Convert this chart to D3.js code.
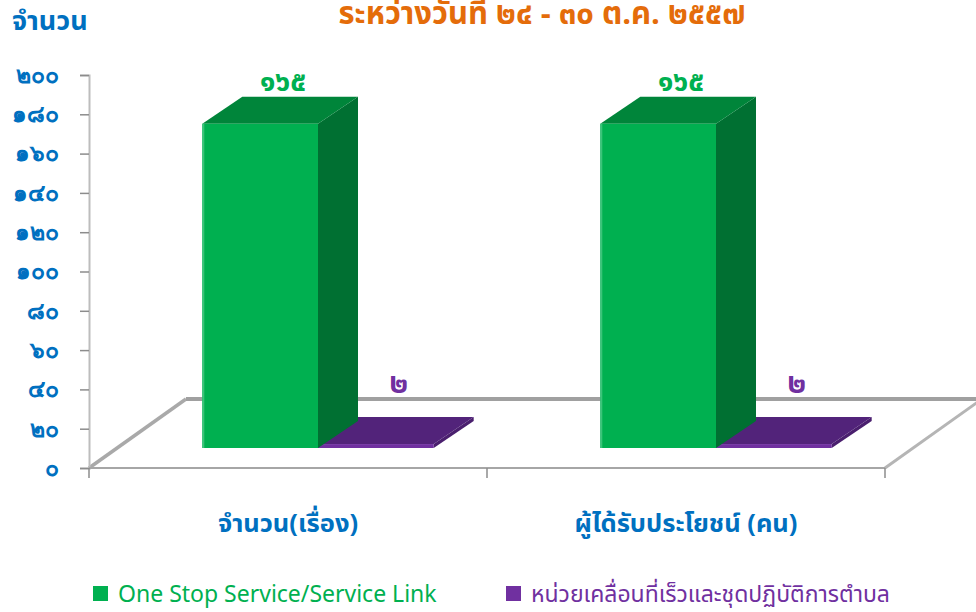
<!DOCTYPE html>
<html>
<head>
<meta charset="utf-8">
<script src="https://cdn.jsdelivr.net/npm/d3@7"></script>
<style>
  body { margin: 0; background: #fff; }
  svg { display: block; font-family: "Noto Sans Thai", "Loma", "Garuda", "Tahoma", "Noto Sans", sans-serif; }
</style>
</head>
<body>
<svg id="chart" width="976" height="612"></svg>
<script>
// data
var categories = [ "จำนวน(เรื่อง)", "ผู้ได้รับประโยชน์ (คน)" ];
var seriesNames = [ "One Stop Service/Service Link", "หน่วยเคลื่อนที่เร็วและชุดปฏิบัติการตำบล" ];
var oneStopValues = [ 165, 165 ];
var mobileUnitValues = [ 2, 2 ];
var yTicks = [ 0, 20, 40, 60, 80, 100, 120, 140, 160, 180, 200 ];
var titleText = "ระหว่างวันที่ ๒๔ - ๓๐ ต.ค. ๒๕๕๗";
var yTitle = "จำนวน";

var colors = {
  front: [ "#00b050", "#7030a0" ],
  top:   [ "#00853a", "#52237a" ],
  side:  [ "#007032", "#4a1f6e" ]
};

function thai( n ) {
  return String( n ).replace( /\d/g, d => "๐๑๒๓๔๕๖๗๘๙"[ d ] );
}

var svg = d3.select( "#chart" );

// 3d offsets
var floorD = { dx: 97, dy: -69 };
var frontD = { dx: 30, dy: -20 };
var barD = { dx: 40, dy: -27 };

var x0 = d3.scaleBand().domain( categories ).range( [ 89, 885 ] );
var x1 = d3.scaleBand().domain( seriesNames ).range( [ 0, x0.bandwidth() ] )
  .paddingInner( 0 ).paddingOuter( 0.72 );
var y = d3.scaleLinear().domain( [ 0, 200 ] ).range( [ 468, 75 ] );

var y0 = y( 0 ), backY = y0 + floorD.dy;

// floor
var floor = svg.append( "g" );
floor.append( "line" )
  .attr( "x1", 89 ).attr( "y1", y0 ).attr( "x2", 89 + floorD.dx ).attr( "y2", backY )
  .attr( "stroke", "#a9a9a9" ).attr( "stroke-width", 3.5 );
floor.append( "line" )
  .attr( "x1", 89 + floorD.dx ).attr( "y1", backY ).attr( "x2", 885 + floorD.dx ).attr( "y2", backY )
  .attr( "stroke", "#a0a0a0" ).attr( "stroke-width", 4 );
floor.append( "line" )
  .attr( "x1", 885 ).attr( "y1", y0 ).attr( "x2", 885 + floorD.dx ).attr( "y2", backY )
  .attr( "stroke", "#b5b5b5" ).attr( "stroke-width", 3 );

// y axis
var yAxis = svg.append( "g" )
  .attr( "transform", "translate(89,0)" )
  .call( d3.axisLeft( y ).tickValues( yTicks ).tickSize( 9 ).tickPadding( 21 ).tickFormat( thai ) );
yAxis.select( ".domain" ).attr( "stroke", "#bdbdbd" ).attr( "stroke-width", 2 );
yAxis.selectAll( ".tick line" ).attr( "stroke", "#8c8c8c" ).attr( "stroke-width", 1.5 );
yAxis.selectAll( ".tick text" )
  .attr( "fill", "#0070c0" ).attr( "font-size", 23 ).attr( "font-weight", "bold" )
  .attr( "font-family", null );

// x axis
svg.append( "line" )
  .attr( "x1", 89 ).attr( "x2", 885 ).attr( "y1", y0 ).attr( "y2", y0 )
  .attr( "stroke", "#a6a6a6" ).attr( "stroke-width", 2 );
var edges = categories.map( c => x0( c ) ).concat( [ x0.range()[ 1 ] ] );
svg.append( "g" ).selectAll( "line" ).data( edges ).enter().append( "line" )
  .attr( "x1", d => d ).attr( "x2", d => d )
  .attr( "y1", y0 ).attr( "y2", y0 + 10 )
  .attr( "stroke", "#8c8c8c" ).attr( "stroke-width", 1.5 );

svg.append( "g" ).selectAll( "text" ).data( categories ).enter().append( "text" )
  .attr( "x", d => x0( d ) + x0.bandwidth() / 2 )
  .attr( "y", 532 )
  .attr( "text-anchor", "middle" )
  .attr( "fill", "#0070c0" ).attr( "font-size", 25.5 ).attr( "font-weight", "bold" )
  .text( d => d );

// bars
var bars = [];
categories.forEach( function( c, ci ) {
  var vals = [ oneStopValues[ ci ], mobileUnitValues[ ci ] ];
  seriesNames.forEach( function( s, si ) {
    bars.push( { cat: c, s: s, si: si, value: vals[ si ] } );
  } );
} );
// draw right to left so side faces overlap correctly
bars.sort( ( a, b ) => ( x0( b.cat ) + x1( b.s ) ) - ( x0( a.cat ) + x1( a.s ) ) );

var barG = svg.append( "g" ).selectAll( "g" ).data( bars ).enter().append( "g" );

function geo( d ) {
  var xl = x0( d.cat ) + x1( d.s ) + frontD.dx;
  var xr = xl + x1.bandwidth();
  var yb = y( 0 ) + frontD.dy;
  var yt = y( d.value ) + frontD.dy;
  return { xl: xl, xr: xr, yb: yb, yt: yt };
}
function pts( arr ) { return arr.map( p => p.join( "," ) ).join( " " ); }

barG.append( "polygon" )
  .attr( "points", function( d ) {
    var g = geo( d );
    return pts( [ [ g.xr, g.yt ], [ g.xr + barD.dx, g.yt + barD.dy ], [ g.xr + barD.dx, g.yb + barD.dy ], [ g.xr, g.yb ] ] );
  } )
  .attr( "fill", d => colors.side[ d.si ] );
barG.append( "polygon" )
  .attr( "points", function( d ) {
    var g = geo( d );
    return pts( [ [ g.xl, g.yt ], [ g.xl + barD.dx, g.yt + barD.dy ], [ g.xr + barD.dx, g.yt + barD.dy ], [ g.xr, g.yt ] ] );
  } )
  .attr( "fill", d => colors.top[ d.si ] );
barG.append( "rect" )
  .attr( "x", d => geo( d ).xl )
  .attr( "y", d => geo( d ).yt )
  .attr( "width", x1.bandwidth() )
  .attr( "height", d => Math.max( 1, geo( d ).yb - geo( d ).yt ) )
  .attr( "fill", d => colors.front[ d.si ] );
barG.filter( d => d.si === 0 ).append( "line" )
  .attr( "x1", d => geo( d ).xl + 1 ).attr( "x2", d => geo( d ).xl + 1 )
  .attr( "y1", d => geo( d ).yt ).attr( "y2", d => geo( d ).yb )
  .attr( "stroke", "#3cc47a" ).attr( "stroke-width", 2 );

// value labels
barG.append( "text" )
  .attr( "x", d => ( geo( d ).xl + geo( d ).xr ) / 2 + barD.dx / 2 + 3 )
  .attr( "y", d => Math.min( geo( d ).yt + barD.dy - 6, backY - 6 ) )
  .attr( "text-anchor", "middle" )
  .attr( "fill", d => colors.front[ d.si ] )
  .attr( "font-size", 29 ).attr( "font-weight", "bold" )
  .text( d => thai( d.value ) );

// titles
svg.append( "text" )
  .attr( "x", 542 ).attr( "y", 24 )
  .attr( "text-anchor", "middle" )
  .attr( "fill", "#e46c0a" ).attr( "font-size", 31 ).attr( "font-weight", "bold" )
  .text( titleText );
svg.append( "text" )
  .attr( "x", 12 ).attr( "y", 30 )
  .attr( "fill", "#0070c0" ).attr( "font-size", 27 ).attr( "font-weight", "bold" )
  .text( yTitle );

// legend
var legendX = [ 93, 506 ];
var legend = svg.append( "g" ).selectAll( "g" ).data( seriesNames ).enter().append( "g" )
  .attr( "transform", ( d, i ) => "translate(" + legendX[ i ] + ",586)" );
legend.append( "rect" )
  .attr( "width", 15 ).attr( "height", 15 )
  .attr( "fill", ( d, i ) => colors.front[ i ] );
legend.append( "text" )
  .attr( "x", 25 ).attr( "y", 16 )
  .attr( "fill", ( d, i ) => colors.front[ i ] )
  .attr( "font-size", 23 )
  .text( d => d );
</script>
</body>
</html>
